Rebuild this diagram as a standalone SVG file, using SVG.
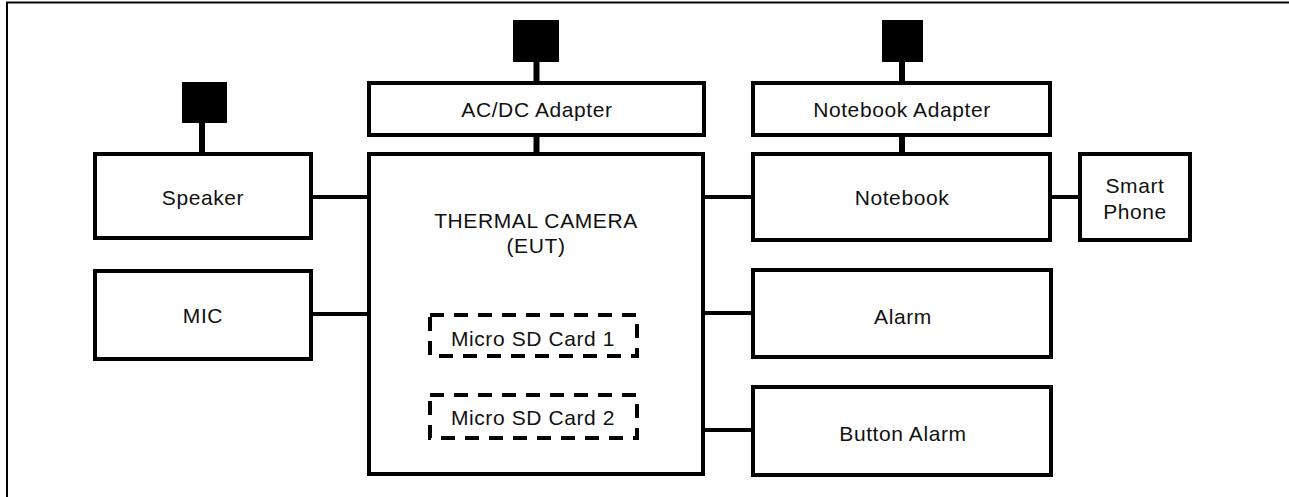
<svg xmlns="http://www.w3.org/2000/svg" width="1289" height="497" viewBox="0 0 1289 497">
<style>
.box{fill:#fff;stroke:#000;stroke-width:4}
.sd{fill:none;stroke:#000;stroke-width:4;stroke-dasharray:14 10}
.plug{fill:#000}
.ln{stroke:#000;stroke-width:4;fill:none}
.stem{stroke:#000;stroke-width:6;fill:none}
text{font-family:"Liberation Sans",Arial,sans-serif;font-size:21px;fill:#111;text-anchor:middle;letter-spacing:0.6px}
</style>
<rect width="1289" height="497" fill="#fff"/>
<g id="frame">
<path d="M7 497 V2.5 H1289" fill="none" stroke="#000" stroke-width="2"/>
</g>
<g id="connectors">
<line class="stem" x1="202" y1="123" x2="202" y2="152"/>
<line class="stem" x1="536.5" y1="62" x2="536.5" y2="81"/>
<line class="stem" x1="536.5" y1="137" x2="536.5" y2="152"/>
<line class="stem" x1="902" y1="62" x2="902" y2="81"/>
<line class="stem" x1="902" y1="137" x2="902" y2="152"/>
<line class="ln" x1="313" y1="197" x2="367" y2="197"/>
<line class="ln" x1="313" y1="314" x2="367" y2="314"/>
<line class="ln" x1="705" y1="197" x2="751" y2="197"/>
<line class="ln" x1="1052" y1="197" x2="1078" y2="197"/>
<line class="ln" x1="705" y1="313" x2="751" y2="313"/>
<line class="ln" x1="705" y1="430" x2="751" y2="430"/>
</g>
<g id="plug-speaker"><rect class="plug" x="182" y="82" width="45" height="41"/></g>
<g id="plug-acdc"><rect class="plug" x="513" y="20" width="46" height="42"/></g>
<g id="plug-notebook"><rect class="plug" x="882" y="20" width="41" height="42"/></g>
<g id="speaker"><rect class="box" x="95" y="154" width="216" height="84"/><text x="203" y="205">Speaker</text></g>
<g id="mic"><rect class="box" x="95" y="271" width="216" height="88"/><text x="203" y="323">MIC</text></g>
<g id="camera"><rect class="box" x="369" y="154" width="334" height="320"/><text x="536" y="228">THERMAL CAMERA</text><text x="536" y="253">(EUT)</text></g>
<g id="sd1"><rect class="sd" x="430" y="315" width="207" height="41"/><text x="533" y="346">Micro SD Card 1</text></g>
<g id="sd2"><rect class="sd" x="430" y="395" width="207" height="43"/><text x="533" y="425">Micro SD Card 2</text></g>
<g id="acdc"><rect class="box" x="369" y="83" width="335" height="52"/><text x="537" y="117">AC/DC Adapter</text></g>
<g id="notebook-adapter"><rect class="box" x="753" y="83" width="297" height="52"/><text x="902" y="117">Notebook Adapter</text></g>
<g id="notebook"><rect class="box" x="753" y="154" width="297" height="86"/><text x="902" y="205">Notebook</text></g>
<g id="smartphone"><rect class="box" x="1080" y="154" width="110" height="86"/><text x="1135" y="193">Smart</text><text x="1135" y="219">Phone</text></g>
<g id="alarm"><rect class="box" x="753" y="270" width="298" height="87"/><text x="903" y="324">Alarm</text></g>
<g id="button-alarm"><rect class="box" x="753" y="387" width="298" height="88"/><text x="903" y="441">Button Alarm</text></g>
</svg>
